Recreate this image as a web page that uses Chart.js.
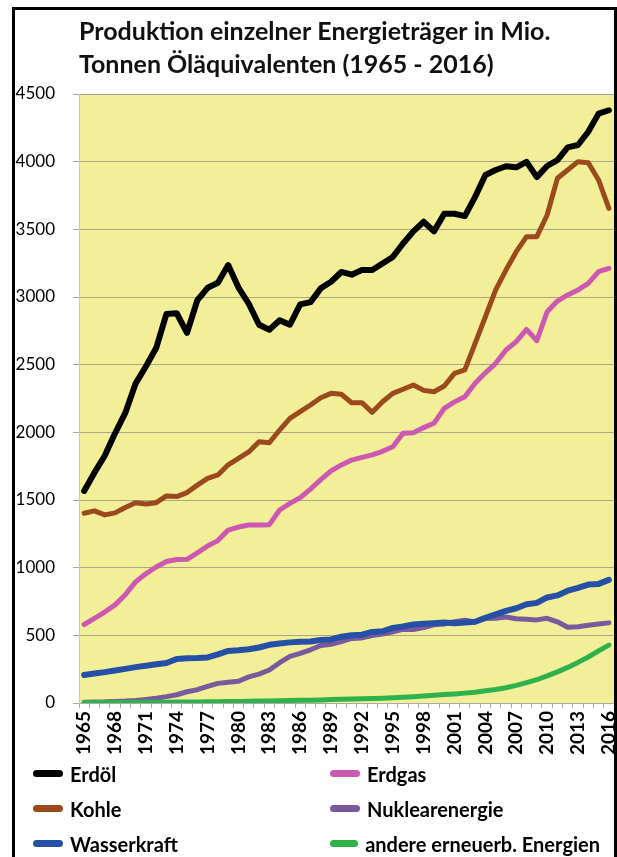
<!DOCTYPE html>
<html><head><meta charset="utf-8">
<script src="https://cdn.jsdelivr.net/npm/chart.js@4"></script>
<style>
html,body{margin:0;padding:0;background:#fff;width:617px;height:857px;overflow:hidden;}
#wrap{position:relative;width:617px;height:857px;}
#c{position:absolute;left:0;top:0;}
#frame{position:absolute;left:12px;top:7px;width:605px;height:900px;box-sizing:border-box;border:3px solid #000;border-bottom:none;pointer-events:none;}
#legend{position:absolute;left:33px;top:756px;display:grid;grid-template-columns:297px 270px;grid-auto-rows:35px;align-items:center;font-family:Lato, sans-serif;font-weight:bold;font-size:20px;color:#000;}
.item{display:flex;align-items:center;white-space:nowrap;}
.sw{display:inline-block;width:30px;height:7px;border-radius:3.5px;margin-right:7px;}
</style></head><body>
<div id="wrap"><canvas id="c" width="617" height="760"></canvas><div id="legend"></div><div id="frame"></div></div>
<script>
const titleLines = ["Produktion einzelner Energieträger in Mio.", "Tonnen Öläquivalenten (1965 - 2016)"];
const years = ["1965","1966","1967","1968","1969","1970","1971","1972","1973","1974",
  "1975","1976","1977","1978","1979","1980","1981","1982","1983","1984",
  "1985","1986","1987","1988","1989","1990","1991","1992","1993","1994",
  "1995","1996","1997","1998","1999","2000","2001","2002","2003","2004",
  "2005","2006","2007","2008","2009","2010","2011","2012","2013","2014",
  "2015","2016"];
const erdoel = [1567,1702,1827,1993,2143,2360,2486,2623,2875,2880,
  2735,2976,3068,3105,3236,3070,2950,2795,2758,2828,
  2795,2945,2962,3064,3113,3185,3165,3199,3199,3248,
  3296,3395,3485,3556,3485,3615,3615,3598,3740,3901,
  3938,3966,3958,3998,3886,3968,4012,4106,4123,4221,
  4355,4380];
const kohle = [1402,1420,1390,1405,1445,1480,1470,1480,1530,1525,
  1555,1610,1660,1685,1760,1808,1855,1931,1923,2017,
  2103,2153,2202,2256,2288,2281,2219,2219,2148,2226,
  2288,2318,2350,2310,2300,2342,2436,2461,2658,2854,
  3052,3199,3335,3446,3446,3606,3877,3938,4000,3992,
  3865,3655];
const erdgas = [580,625,672,725,800,895,955,1005,1045,1060,
  1062,1110,1160,1200,1278,1300,1315,1315,1318,1426,
  1475,1518,1580,1650,1715,1759,1795,1815,1833,1860,
  1894,1993,1997,2035,2067,2177,2225,2263,2362,2440,
  2510,2608,2670,2761,2677,2891,2970,3015,3052,3101,
  3187,3212];
const nuklear = [6,8,9,12,14,18,26,35,47,61,
  83,98,123,145,154,161,193,213,244,298,
  344,366,393,425,434,453,477,481,498,509,
  526,545,543,557,578,584,601,611,599,624,
  626,635,622,619,614,626,600,560,564,575,
  583,592];
const wasser = [207,218,228,240,252,265,275,286,295,325,
  330,332,337,360,385,390,397,410,430,440,
  448,453,455,465,470,490,500,505,525,530,
  555,565,580,585,590,595,590,595,600,630,
  655,680,700,730,740,780,795,830,850,875,
  880,910];
const andere = [3,3,4,4,4,5,5,6,6,7,
  7,8,9,10,11,12,13,14,15,16,
  18,20,21,23,25,27,29,31,33,35,
  38,42,47,52,57,62,67,73,80,90,
  100,113,130,150,172,200,230,263,300,340,
  385,428];
const seriesNames = ["Erdöl","Erdgas","Kohle","Nuklearenergie","Wasserkraft","andere erneuerb. Energien"];
const seriesData = [erdoel, erdgas, kohle, nuklear, wasser, andere];
const seriesColors = ["#000000","#cd58b2","#9a4a1c","#7a5a9c","#2550a6","#2fb24c"];
const seriesWidths = [6,5,5,5,6,5];
const seriesOrder = [5,4,3,2,1,0];

const bgPlugin = {id:'bg', beforeDraw(chart){
  const a = chart.chartArea; const ctx = chart.ctx;
  ctx.save(); ctx.fillStyle = '#f3ef98'; ctx.fillRect(a.left, a.top, a.right - a.left, a.bottom - a.top); ctx.restore();
}};

const datasets = seriesNames.map((n,i)=>({
  label:n, data:seriesData[i], borderColor:seriesColors[i], backgroundColor:seriesColors[i],
  borderWidth:seriesWidths[i], pointRadius:0, tension:0, fill:false,
  borderCapStyle:'round', borderJoinStyle:'round', order:seriesOrder[i]
}));

const chart = new Chart(document.getElementById('c'), {
  type:'line',
  data:{labels:years, datasets:datasets},
  options:{
    responsive:false, animation:false,
    layout:{padding:{left:14,right:3,top:0,bottom:0}},
    plugins:{
      legend:{display:false},
      tooltip:{enabled:false},
      title:{display:true, text:titleLines, align:'start', fullSize:false, color:'#111',
        font:{family:'Lato', size:25, weight:'bold', lineHeight:1.32}, padding:{top:15,bottom:13}}
    },
    scales:{
      x:{type:'category', offset:true,
        grid:{display:true, offset:true, drawOnChartArea:false, drawTicks:true, tickLength:5, color:'#aaaaaa'},
        border:{display:true, color:'#aaaaaa'},
        ticks:{autoSkip:false, maxRotation:90, minRotation:90, padding:3, color:'#000',
          font:{family:'Lato', size:19, weight:'bold'},
          callback:function(v,i){return i%3===0 ? this.getLabelForValue(v) : '';}},
        afterFit:function(s){s.height=57; s.paddingLeft=0; s.paddingRight=0;}
      },
      y:{min:0, max:4500,
        ticks:{stepSize:500, padding:18, color:'#000', font:{family:'Lato', size:17},
          callback:function(v){return String(v);}},
        grid:{color:'#aaa68a', tickLength:6, drawTicks:true},
        border:{display:true, color:'#c4c4c4'},
        afterFit:function(s){s.width=65; s.paddingTop=0; s.paddingBottom=0;}
      }
    }
  },
  plugins:[bgPlugin]
});

const leg = document.getElementById('legend');
chart.data.datasets.forEach(ds=>{
  const it = document.createElement('div'); it.className='item';
  const sw = document.createElement('span'); sw.className='sw'; sw.style.background=ds.borderColor;
  const tx = document.createElement('span'); tx.textContent = ds.label;
  it.appendChild(sw); it.appendChild(tx); leg.appendChild(it);
});
</script>
</body></html>
